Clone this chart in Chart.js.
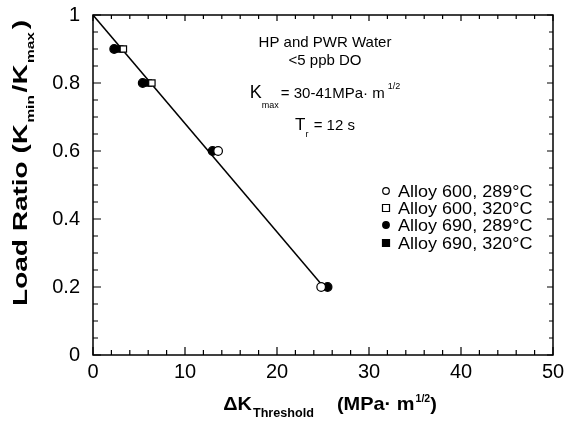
<!DOCTYPE html>
<html><head><meta charset="utf-8">
<script src="https://cdn.jsdelivr.net/npm/chart.js@4/dist/chart.umd.min.js"></script>
<style>html,body{margin:0;padding:0;background:#fff}#wrap{width:567px;height:423px}</style>
</head><body><div id="wrap"><canvas id="c" width="567" height="423"></canvas></div>
<script>
const seriesNames = ["Alloy 600, 289°C","Alloy 600, 320°C","Alloy 690, 289°C","Alloy 690, 320°C"];
const a600_289 = [{x:13.6,y:0.6},{x:24.8,y:0.2}];
const a600_320 = [{x:3.3,y:0.9},{x:6.4,y:0.8}];
const a690_289 = [{x:2.3,y:0.9},{x:5.4,y:0.8},{x:13.0,y:0.6},{x:25.5,y:0.2}];
const a690_320 = [{x:2.9,y:0.9},{x:6.0,y:0.8}];
const fitLine = [{x:0,y:1.0},{x:25.4,y:0.19}];
const xTicks = [0,10,20,30,40,50];
const yTicks = [0,0.2,0.4,0.6,0.8,1];
const FONT = "'Liberation Sans', Arial, sans-serif";

function sub(ctx, x, y, parts){ // parts: [text, size, dy, bold, gapAfter]
  let cx = x;
  for(const p of parts){
    ctx.font = (p[3]?'bold ':'') + p[1]+'px '+FONT;
    ctx.fillText(p[0], cx, y+p[2]);
    cx += ctx.measureText(p[0]).width + (p[4]||0);
  }
  return cx - x;
}
function measureParts(ctx, parts){
  let w=0; for(const p of parts){ctx.font=(p[3]?'bold ':'')+p[1]+'px '+FONT; w+=ctx.measureText(p[0]).width+(p[4]||0);} return w;
}

const deco = {
  id:'deco',
  afterDraw(chart){
    const ctx = chart.ctx, ca = chart.chartArea, xs = chart.scales.x, ys = chart.scales.y;
    ctx.save();
    ctx.strokeStyle='#000'; ctx.lineWidth=1.5;
    ctx.strokeRect(ca.left, ca.top, ca.right-ca.left, ca.bottom-ca.top);
    ctx.lineWidth=1.2;
    for(let v=0; v<=50; v+=2){
      const px = xs.getPixelForValue(v); const major = v%10===0;
      ctx.beginPath(); ctx.moveTo(px, ca.bottom); ctx.lineTo(px, ca.bottom-(major?8:5));
      ctx.moveTo(px, ca.top); ctx.lineTo(px, ca.top+(major?6:4)); ctx.stroke();
    }
    for(let i=0;i<=20;i++){
      const v=i*0.05; const py = ys.getPixelForValue(v); const major = i%4===0;
      ctx.beginPath(); ctx.moveTo(ca.left, py); ctx.lineTo(ca.left+(major?8:5), py);
      ctx.moveTo(ca.right, py); ctx.lineTo(ca.right-(major?6:4), py); ctx.stroke();
    }
    ctx.fillStyle='#000'; ctx.textBaseline='alphabetic'; ctx.textAlign='left';
    // annotations
    const cxm = 325;
    let parts=[["HP and PWR Water",15,0]]; let w=measureParts(ctx,parts); sub(ctx,cxm-w/2,47,parts);
    parts=[["<5 ppb DO",15,0]]; w=measureParts(ctx,parts); sub(ctx,cxm-w/2,65,parts);
    parts=[["K",18,0],["max",9,10,false,2],["= 30-41MPa· m",15,0,false,3],["1/2",9,-9]]; w=measureParts(ctx,parts); sub(ctx,cxm-w/2,98,parts);
    parts=[["T",17,0],["r",9,7,false,1],[" = 12 s",15,0]]; w=measureParts(ctx,parts); sub(ctx,cxm-w/2,130,parts);
    // legend
    const ds = chart.data.datasets;
    const rows=[197,214,231,249];
    for(let i=0;i<4;i++){
      const d=ds[i], y=rows[i], x=386;
      ctx.beginPath(); ctx.lineWidth=1.2; ctx.strokeStyle='#000'; ctx.fillStyle=d.backgroundColor;
      if(d.pointStyle==='circle'){ctx.arc(x,y-6,3.3,0,Math.PI*2);} else {ctx.rect(x-3.5,y-9.5,7,7);}
      ctx.fill(); ctx.stroke();
      ctx.fillStyle='#000'; ctx.font='17px '+FONT;
      ctx.save(); ctx.translate(398,y); ctx.scale(1.06,1); ctx.fillText(seriesNames[i], 0, 0); ctx.restore();
    }
    // y title
    ctx.save(); ctx.translate(27, 163); ctx.rotate(-Math.PI/2);
    parts=[["Load Ratio (K",20,0,true,1],["min",11,7,true,2],["/K",20,0,true,1],["max",11,7,true,2],[")",20,0,true]];
    w=measureParts(ctx,parts); ctx.scale(1.4,1); sub(ctx,-w/2,0,parts); ctx.restore();
    // x title
    parts=[["ΔK",19,0,true,1],["Threshold",12,7,true,22],["(MPa· m",19,0,true,1],["1/2",10,-8,true],[")",19,0,true]];
    w=measureParts(ctx,parts); ctx.save(); ctx.translate(330,410); ctx.scale(1.05,1); sub(ctx,-w/2,0,parts); ctx.restore();
    ctx.restore();
  }
};

const mk = (data, style, filled) => ({data, pointStyle:style, pointRadius: style==='circle'?4.3:4.5, pointHoverRadius:4,
  backgroundColor: filled?'#000':'#fff', borderColor:'#000', pointBorderWidth:1.2, showLine:false});

new Chart(document.getElementById('c'), {
  type:'scatter',
  data:{datasets:[
    mk(a600_289,'circle',false), mk(a600_320,'rect',false), mk(a690_289,'circle',true), mk(a690_320,'rect',true),
    {data:fitLine, showLine:true, borderColor:'#000', borderWidth:1.5, pointRadius:0, fill:false}
  ]},
  options:{
    responsive:false, animation:false, devicePixelRatio:1,
    layout:{padding:{top:15,right:14,left:0,bottom:0}},
    plugins:{legend:{display:false}, tooltip:{enabled:false}},
    scales:{
      x:{type:'linear', min:0, max:50, afterBuildTicks(s){s.ticks=xTicks.map(v=>({value:v}));},
        afterFit(s){s.height=68; s.paddingLeft=0; s.paddingRight=0;}, grid:{display:false, drawTicks:false}, border:{display:false},
        ticks:{color:'#000', padding:5, font:{size:20, family:FONT}, maxRotation:0}},
      y:{type:'linear', min:0, max:1, afterBuildTicks(s){s.ticks=yTicks.map(v=>({value:v}));},
        afterFit(s){s.width=93; s.paddingTop=0; s.paddingBottom=0;}, grid:{display:false, drawTicks:false}, border:{display:false},
        ticks:{color:'#000', padding:13, font:{size:20, family:FONT}, callback:v=>String(Math.round(v*10)/10)}}
    }
  },
  plugins:[deco]
});
</script></body></html>
